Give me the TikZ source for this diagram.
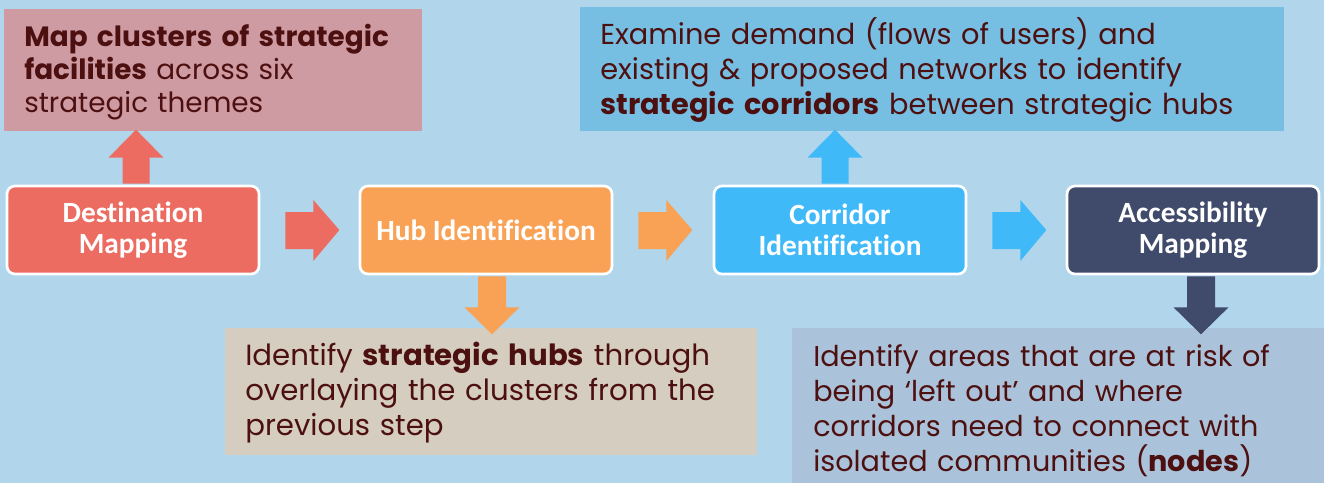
\documentclass[tikz,border=0pt]{standalone}
\usepackage{fontspec}
\setmainfont{Poppins}
\newfontfamily\boxfont{Carlito}[Ligatures=NoCommon]
\usetikzlibrary{calc}
\definecolor{bgc}{HTML}{B1D6EB}
\definecolor{pinkbox}{HTML}{CE9BA3}
\definecolor{destc}{HTML}{EC6C61}
\definecolor{hubc}{HTML}{F9A154}
\definecolor{corrc}{HTML}{40B9F9}
\definecolor{accc}{HTML}{404A6A}
\definecolor{trbox}{HTML}{77BFE2}
\definecolor{blbox}{HTML}{D5CDC0}
\definecolor{brbox}{HTML}{ABC3DA}
\definecolor{txtc}{HTML}{4D1010}
\tikzset{
  stepbox/.style={draw=white, line width=2pt, rounded corners=6pt, minimum width=189pt, minimum height=66pt,
    inner sep=0pt, align=center, text=white, font=\boxfont\bfseries\fontsize{22}{23.5}\selectfont},
  infobox/.style={inner sep=0pt, anchor=north west},
  infotxt/.style={inner sep=0pt, anchor=base west, align=left, text=txtc},
}
\begin{document}
\begin{tikzpicture}[x=0.75pt,y=-0.75pt]
\fill[bgc] (0,0) rectangle (1324,483);
\useasboundingbox (0,0) rectangle (1324,483);

% info boxes
\node[infobox, fill=pinkbox, minimum width=313.5pt, minimum height=91pt] (tl) at (4,9) {};
\node[infobox, fill=trbox, minimum width=528pt, minimum height=93pt] (tr) at (580,7) {};
\node[infobox, fill=blbox, minimum width=399pt, minimum height=95.25pt] (bl) at (225,328) {};
\node[infobox, fill=brbox, minimum width=399pt, minimum height=116.25pt] (br) at (792,328) {};

% step boxes
\node[stepbox, fill=destc] (dm) at (133,230) {Destination\\Mapping};
\node[stepbox, fill=hubc] (hi) at (486,230) {Hub Identification};
\node[stepbox, fill=corrc] (ci) at (840,230) {Corridor\\Identification};
\node[stepbox, fill=accc] (am) at (1193,230) {Accessibility\\Mapping};

% texts
\node[infotxt, text width=390pt, font=\fontsize{20.9}{24.75}\selectfont] (tlt) at (24,46)
  {\textbf{Map clusters of strategic}\\\textbf{facilities} across six\\strategic themes};
\node[infotxt, text width=540pt, font=\fontsize{21.6}{26.25}\selectfont] (trt) at (600,44)
  {Examine demand (flows of users) and\\existing \& proposed networks to identify\\\textbf{strategic corridors} between strategic hubs};
\node[infotxt, text width=390pt, font=\fontsize{21.9}{26.25}\selectfont] (blt) at (245,365)
  {Identify \textbf{strategic hubs} through\\overlaying the clusters from the\\previous step};
\node[infotxt, text width=390pt, font=\fontsize{21.5}{26.25}\selectfont] (brt) at (813,366)
  {Identify areas that are at risk of\\being ‘left out’ and where\\corridors need to connect with\\isolated communities (\textbf{nodes})};

% horizontal block arrows
\foreach \a/\b/\c in {dm/hi/destc, hi/ci/hubc, ci/am/corrc}{
  \fill[\c] ($(\a.east)+(25,-18)$) -- ($(\a.east)+(53,-18)$) -- ($(\a.east)+(53,-30)$)
    -- ($(\a.east)+(79,0)$) -- ($(\a.east)+(53,31)$) -- ($(\a.east)+(53,19)$) -- ($(\a.east)+(25,19)$) -- cycle;
}
% vertical block arrows: up
\foreach \a/\dx/\c in {dm/3/destc, ci/-5/corrc}{
  \fill[\c] ($(\a.north)+(\dx-13.5,-1)$) -- ($(\a.north)+(\dx-13.5,-27)$) -- ($(\a.north)+(\dx-27.5,-27)$)
    -- ($(\a.north)+(\dx,-55)$) -- ($(\a.north)+(\dx+27.5,-27)$) -- ($(\a.north)+(\dx+13.5,-27)$) -- ($(\a.north)+(\dx+13.5,-1)$) -- cycle;
}
% down
\foreach \a/\dx/\c in {hi/6/hubc, am/8/accc}{
  \fill[\c] ($(\a.south)+(\dx-14,1)$) -- ($(\a.south)+(\dx-14,32)$) -- ($(\a.south)+(\dx-27.5,32)$)
    -- ($(\a.south)+(\dx,59)$) -- ($(\a.south)+(\dx+27.5,32)$) -- ($(\a.south)+(\dx+14,32)$) -- ($(\a.south)+(\dx+14,1)$) -- cycle;
}
\end{tikzpicture}
\end{document}
